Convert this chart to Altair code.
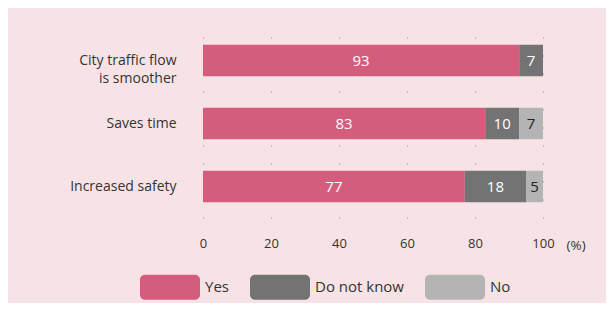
import altair as alt
import pandas as pd

categories = ["City traffic flow is smoother", "Saves time", "Increased safety"]
responses = ["Yes", "Do not know", "No"]
yes_vals = [93, 83, 77]
dunno_vals = [7, 10, 18]
no_vals = [0, 7, 5]
colors = ["#D45D7E", "#737373", "#B4B4B4"]
x_ticks = [0, 20, 40, 60, 80, 100]

rows = []
for i, c in enumerate(categories):
    for j, (r, vals) in enumerate(zip(responses, [yes_vals, dunno_vals, no_vals])):
        rows.append({"category": c, "response": r, "ord": j, "value": vals[i]})
df = pd.DataFrame(rows)

FONT = "Open Sans"
sw = "M-0.8333,-0.4167 L0.8333,-0.4167 A0.1667,0.1667 0 0 1 1,-0.25 L1,0.25 A0.1667,0.1667 0 0 1 0.8333,0.4167 L-0.8333,0.4167 A0.1667,0.1667 0 0 1 -1,0.25 L-1,-0.25 A0.1667,0.1667 0 0 1 -0.8333,-0.4167 Z"

base = alt.Chart(df).transform_stack(
    stack="value", groupby=["category"], as_=["x0", "x1"],
    sort=[alt.SortField("ord", order="ascending")]
).transform_calculate(mid="(datum.x0 + datum.x1) / 2")

y_enc = alt.Y("category:N", sort=categories, title=None,
              scale=alt.Scale(paddingInner=0.5, paddingOuter=0.25),
              axis=alt.Axis(domain=False, ticks=False, labelPadding=27,
                            labelFont=FONT, labelFontSize=14, labelColor="#333333",
                            labelLineHeight=18,
                            labelExpr="datum.label == 'City traffic flow is smoother' ? ['City traffic flow', 'is smoother'] : datum.label"))

bars = base.mark_bar().encode(
    x=alt.X("x0:Q", scale=alt.Scale(domain=[0, 100], nice=False),
            axis=alt.Axis(values=x_ticks, domain=False, ticks=False, labelPadding=19,
                          labelFlush=False,
                          labelFont=FONT, labelFontSize=13, labelColor="#333333",
                          grid=True, gridDash=[1, 17], gridColor="#999999", gridWidth=1.2,
                          title="(%)", titleFont=FONT, titleFontSize=13.5,
                          titleFontWeight="normal", titleColor="#333333",
                          titleAnchor="start", titleAlign="left", titleX=363, titleY=31,
                          titleBaseline="alphabetic")),
    x2="x1:Q",
    y=y_enc,
    color=alt.Color("response:N", sort=responses,
                    scale=alt.Scale(domain=responses, range=colors),
                    legend=alt.Legend(orient="none", direction="horizontal", title=None,
                                      legendX=-63, legendY=228,
                                      symbolType=sw, symbolSize=3600, symbolStrokeWidth=0,
                                      symbolOpacity=1,
                                      labelFont=FONT, labelFontSize=15, labelColor="#333333",
                                      labelOffset=5, columnPadding=21)),
)

labels = base.transform_filter("datum.value > 0").mark_text(
    font=FONT, fontSize=15
).encode(
    x="mid:Q",
    y=alt.Y("category:N", sort=categories),
    text="value:Q",
    color=alt.condition("datum.response == 'No'", alt.value("#222222"), alt.value("#FFFFFF")),
)

chart = alt.layer(bars, labels).properties(
    width=340, height=189,
    autosize=alt.AutoSizeParams(type="none"),
    padding={"left": 195, "right": 63, "top": 21, "bottom": 85},
    background="#F7E3E6",
).configure_view(stroke=None)

chart.save("out.html", embed_options={"renderer": "svg", "actions": False})
